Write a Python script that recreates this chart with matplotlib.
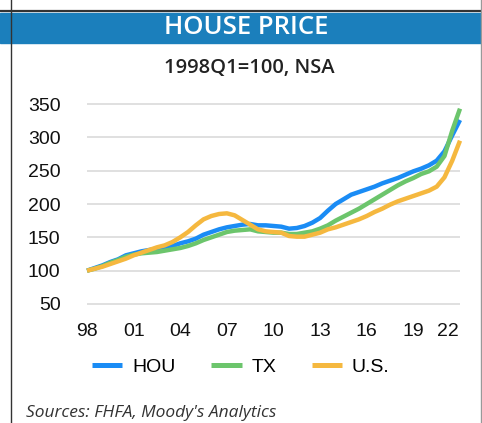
import matplotlib
matplotlib.use('Agg')
import matplotlib.pyplot as plt
from matplotlib.lines import Line2D
from matplotlib.patches import Rectangle

# semi-annual points, 1998Q1 .. 2022Q1 (index 1998Q1=100)
years = [1998 + 0.5 * i for i in range(49)]
hou = [100, 104, 108, 113, 117, 123, 126, 129, 131, 133, 134, 137, 141, 144, 148, 154,
       158, 162, 165, 167, 169, 170, 168, 168, 167, 166, 163, 164, 167, 172, 179, 190,
       200, 207, 214, 218, 222, 226, 231, 235, 239, 244, 249, 253, 258, 265, 279, 303, 326]
tx = [100, 103, 107, 112, 116, 121, 124, 126, 127, 128, 130, 132, 134, 137, 141, 146,
      150, 154, 158, 160, 161, 162, 159, 158, 157, 157, 155, 155, 157, 159, 163, 168,
      175, 181, 187, 193, 200, 207, 214, 221, 228, 234, 239, 245, 249, 256, 272, 310, 343]
us = [100, 103, 106, 110, 114, 118, 123, 127, 131, 135, 138, 143, 150, 158, 168, 177,
      182, 185, 186, 183, 176, 169, 162, 159, 158, 157, 152, 151, 151, 154, 157, 162,
      165, 169, 173, 177, 182, 188, 193, 199, 204, 208, 212, 216, 220, 226, 240, 265, 295]

tick_pos = [1998, 2001, 2004, 2007, 2010, 2013, 2016, 2019, 2021.2]
tick_lab = ['98', '01', '04', '07', '10', '13', '16', '19', '22']
y_ticks = [50, 100, 150, 200, 250, 300, 350]

c_hou = '#1a8cf5'
c_tx = '#6cc56c'
c_us = '#f5b83f'

W, H = 482, 423
fig = plt.figure(figsize=(W / 100, H / 100), dpi=100)
plt.rcParams['font.family'] = ['Liberation Sans', 'DejaVu Sans']

# frame / header
fig.patches.append(Rectangle((0, 1 - 43 / H), 1, 30 / H, transform=fig.transFigure,
                             color='#1b7fbc', zorder=0))
fig.add_artist(Line2D([0, 1], [1 - 11.5 / H] * 2, color='#333333', lw=1.6))
fig.add_artist(Line2D([10.5 / W] * 2, [0, 1], color='#333333', lw=1.0))
fig.add_artist(Line2D([480.5 / W] * 2, [0, 1], color='#999999', lw=1.0))

fig.text(246 / W, 1 - 28 / H, 'HOUSE PRICE', color='white', fontsize=18.5,
         fontweight='semibold', family='Open Sans', ha='center', va='center')
fig.text(249 / W, 1 - 68 / H, '1998Q1=100, NSA', color='#222222', fontsize=14.5,
         fontweight='semibold', family='Open Sans', ha='center', va='center')
fig.text(26 / W, 1 - 405 / H, "Sources: FHFA, Moody's Analytics", color='#333333',
         fontsize=12.5, style='italic', family='Open Sans', ha='left', va='top')

# plot area
ylo, yhi = 45, 355
ppu = 200 / 300
bot = 304 + (50 - ylo) * ppu
top = 104 - (yhi - 350) * ppu
ax = fig.add_axes([87 / W, 1 - bot / H, (460 - 87) / W, (bot - top) / H])
ax.set_xlim(1998, 2022)
ax.set_ylim(ylo, yhi)
for s in ax.spines.values():
    s.set_visible(False)
ax.set_yticks(y_ticks)
ax.set_xticks(tick_pos)
ax.set_xticklabels(tick_lab)
ax.tick_params(length=0, labelsize=14, colors='#111111')
ax.tick_params(axis='y', pad=19)
ax.tick_params(axis='x', pad=11)
ax.grid(axis='y', color='#dddddd', lw=1.3)
ax.set_axisbelow(True)

ax.plot(years, hou, color=c_hou, lw=3.2, label='HOU', clip_on=False, solid_capstyle='butt')
ax.plot(years, tx, color=c_tx, lw=3.2, label='TX', clip_on=False, solid_capstyle='butt')
ax.plot(years, us, color=c_us, lw=3.2, label='U.S.', clip_on=False, solid_capstyle='butt')

leg = fig.legend(loc='center', bbox_to_anchor=(241 / W, 1 - 367 / H), ncol=3,
                 frameon=False, fontsize=14, handlelength=1.55, handletextpad=0.5,
                 columnspacing=1.85)
for ln in leg.get_lines():
    ln.set_linewidth(3.6)

fig.savefig('out.png', dpi=100)
